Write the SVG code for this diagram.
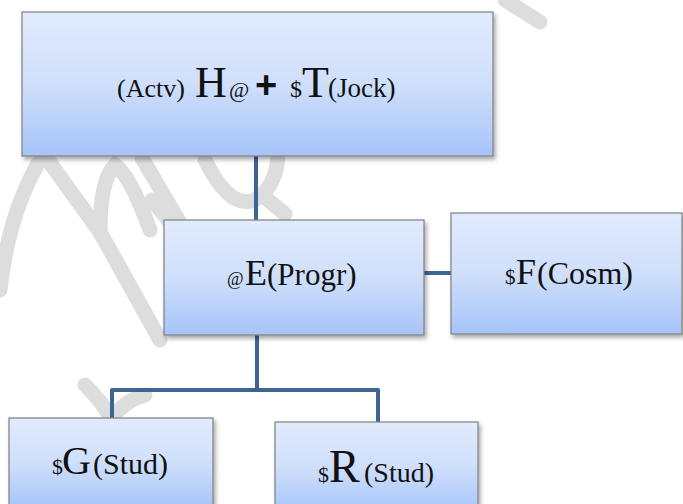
<svg xmlns="http://www.w3.org/2000/svg" width="683" height="504" viewBox="0 0 683 504">
<defs>
<linearGradient id="g" x1="0" y1="0" x2="0" y2="1">
<stop offset="0" stop-color="#e1ebfd"/>
<stop offset="0.5" stop-color="#cfdffb"/>
<stop offset="1" stop-color="#a6c4f9"/>
</linearGradient>
<filter id="sh" x="-5%" y="-5%" width="115%" height="120%">
<feDropShadow dx="2" dy="3" stdDeviation="2" flood-color="#000" flood-opacity="0.35"/>
</filter>
</defs>
<style>
.box{fill:url(#g);stroke:#7f7f7f;stroke-width:1.2;filter:url(#sh)}
.con{fill:none;stroke:#3e6494;stroke-width:4;stroke-linejoin:round}
.wm{fill:none;stroke:#dddddd;stroke-width:15;stroke-linecap:round}
text{font-family:"Liberation Serif","DejaVu Serif",serif;fill:#111}
.b{font-size:44px}
.plus{font-family:"Liberation Sans",Arial,sans-serif;font-weight:bold;font-size:38px}
</style>
<rect width="683" height="504" fill="#fff"/>
<g id="watermark">
<path class="wm" d="M 40 160 Q 8 215 0 290"/>
<path class="wm" d="M 48 160 L 100 232 L 160 340"/>
<path class="wm" d="M 100 232 Q 100 180 115 165 Q 130 175 150 230"/>
<path class="wm" d="M 142 158 L 190 240"/>
<path class="wm" d="M 205 160 Q 230 210 255 200 Q 278 185 278 152"/>
<path class="wm" d="M 85 385 Q 105 405 110 418"/>
<path class="wm" d="M 145 395 Q 125 400 112 418"/>
<path class="wm" d="M 505 0 L 540 22"/>
<path class="wm" d="M 152 200 L 170 222"/>
<path class="wm" d="M 268 200 L 285 214"/>
</g>
<g id="connectors">
<path class="con" d="M 256 156 L 256 220"/>
<path class="con" d="M 424 273 L 451 273"/>
<path class="con" d="M 257 335 L 257 390"/>
<path class="con" d="M 112 418 L 112 390 L 378 390 L 378 422"/>
</g>
<g id="node-top">
<rect class="box" x="22" y="12" width="471" height="144"/>
<text y="97"><tspan x="117" style="font-size:26px">(Actv)</tspan><tspan class="b" x="195">H</tspan><tspan x="229" style="font-size:22px">@</tspan></text>
<text class="plus" x="255" y="98">+</text>
<text y="97"><tspan x="290" style="font-size:24px">$</tspan><tspan class="b" x="302">T</tspan><tspan x="328" style="font-size:27px">(Jock)</tspan></text>
</g>
<g id="node-E">
<rect class="box" x="164" y="220" width="260" height="115"/>
<text y="285"><tspan x="227" style="font-size:18px">@</tspan><tspan x="245" style="font-size:36px">E</tspan><tspan x="267" style="font-size:31px">(Progr)</tspan></text>
</g>
<g id="node-F">
<rect class="box" x="451" y="213" width="231" height="121"/>
<text y="284"><tspan x="505" style="font-size:21px">$</tspan><tspan x="516" style="font-size:36px">F</tspan><tspan x="537" style="font-size:32px">(Cosm)</tspan></text>
</g>
<g id="node-G">
<rect class="box" x="9" y="418" width="204" height="90"/>
<text y="474"><tspan x="52" style="font-size:22px">$</tspan><tspan x="62" style="font-size:40px">G</tspan><tspan x="93" style="font-size:30px">(Stud)</tspan></text>
</g>
<g id="node-R">
<rect class="box" x="275" y="422" width="203" height="90"/>
<text y="482"><tspan x="318" style="font-size:22px">$</tspan><tspan x="329" style="font-size:46px">R</tspan><tspan x="364" style="font-size:28px">(Stud)</tspan></text>
</g>
</svg>
